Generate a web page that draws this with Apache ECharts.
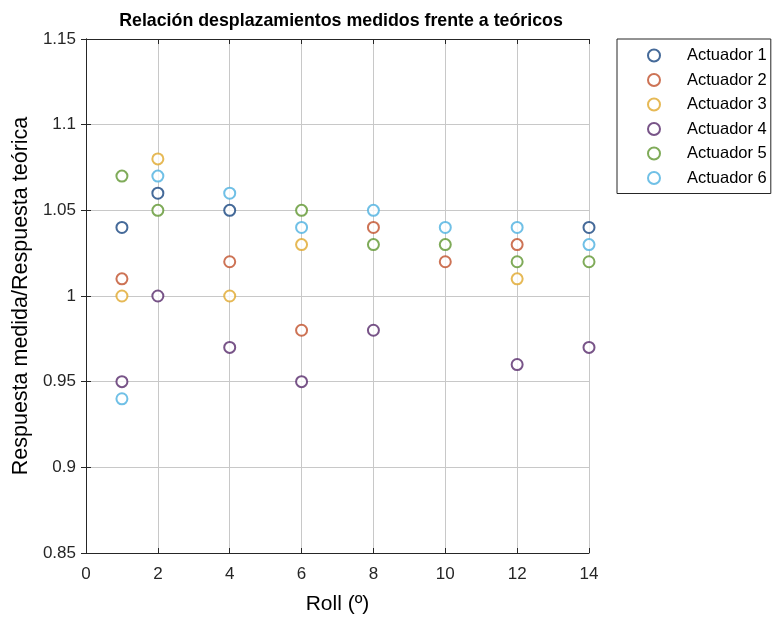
<!DOCTYPE html>
<html><head><meta charset="utf-8">
<script src="https://cdn.jsdelivr.net/npm/echarts@6/dist/echarts.min.js"></script>
<style>html,body{margin:0;padding:0;background:#fff}#c{width:776px;height:622px}</style>
</head><body><div id="c"></div>
<script>
const rollX = [1, 2, 4, 6, 8, 10, 12, 14];
const seriesNames = ['Actuador 1','Actuador 2','Actuador 3','Actuador 4','Actuador 5','Actuador 6'];
// null = point hidden under another marker in the reference
const act1 = [1.04, 1.06, 1.05, null, null, null, null, 1.04];
const act2 = [1.01, null, 1.02, 0.98, 1.04, 1.02, 1.03, null];
const act3 = [1.00, 1.08, 1.00, 1.03, null, null, 1.01, null];
const act4 = [0.95, 1.00, 0.97, 0.95, 0.98, null, 0.96, 0.97];
const act5 = [1.07, 1.05, null, 1.05, 1.03, 1.03, 1.02, 1.02];
const act6 = [0.94, 1.07, 1.06, 1.04, 1.05, 1.04, 1.04, 1.03];
const xTicks = [0, 2, 4, 6, 8, 10, 12, 14];
const yTicks = [0.85, 0.9, 0.95, 1, 1.05, 1.1, 1.15];
const colors = ['#17457f', '#c0502a', '#e0a82c', '#56296a', '#5f9630', '#4cb0e0'];
const allData = [act1, act2, act3, act4, act5, act6];

const font = 'Liberation Sans, Arial, Helvetica, sans-serif';
const chart = echarts.init(document.getElementById('c'), null, {renderer: 'canvas'});
const fmt = v => String(Number(v.toFixed(2)));
const axisLine = {show: true, lineStyle: {color: '#262626', width: 1}};
const tick = {show: true, inside: true, length: 5, lineStyle: {color: '#262626'}};
chart.setOption({
  animation: false,
  color: colors,
  title: {
    text: 'Relación desplazamientos medidos frente a teóricos',
    left: 336, top: 7, textAlign: 'center',
    textStyle: {fontFamily: font, fontSize: 17.8, fontWeight: 'bold', color: '#000'}
  },
  legend: {
    orient: 'vertical', left: 617, top: 39,
    data: seriesNames,
    itemWidth: 12, itemHeight: 12, itemGap: 7.5,
    padding: [8, 4, 7, 30],
    borderColor: '#262626', borderWidth: 1,
    textStyle: {fontFamily: font, fontSize: 16.5, lineHeight: 16, color: '#000', padding: [0, 0, 0, 22]}
  },
  grid: {left: 86, top: 39, right: 187, bottom: 69, containLabel: false},
  xAxis: [{
    type: 'value', min: xTicks[0], max: xTicks[xTicks.length - 1], interval: 2,
    name: 'Roll (º)', nameLocation: 'middle', nameGap: 41,
    nameTextStyle: {fontFamily: font, fontSize: 21, color: '#000'},
    axisLine: axisLine, axisTick: tick,
    axisLabel: {fontFamily: font, fontSize: 17, color: '#262626', margin: 13, formatter: fmt},
    splitLine: {show: true, lineStyle: {color: '#c8c8c8', width: 1}}
  }, {
    type: 'value', position: 'top', min: xTicks[0], max: xTicks[xTicks.length - 1], interval: 2,
    axisLine: axisLine, axisTick: tick, axisLabel: {show: false}, splitLine: {show: false}
  }],
  yAxis: [{
    type: 'value', min: yTicks[0], max: yTicks[yTicks.length - 1], interval: 0.05,
    name: 'Respuesta medida/Respuesta teórica', nameLocation: 'middle', nameGap: 53,
    nameTextStyle: {fontFamily: font, fontSize: 21.5, color: '#000'},
    axisLine: axisLine, axisTick: tick,
    axisLabel: {fontFamily: font, fontSize: 17, color: '#262626', margin: 10, formatter: fmt},
    splitLine: {show: true, lineStyle: {color: '#c8c8c8', width: 1}}
  }, {
    type: 'value', position: 'right', min: yTicks[0], max: yTicks[yTicks.length - 1], interval: 0.05,
    axisLine: axisLine, axisTick: tick, axisLabel: {show: false}, splitLine: {show: false}
  }],
  series: seriesNames.map((n, i) => ({
    name: n, type: 'scatter', symbol: 'emptyCircle', symbolSize: 11,
    itemStyle: {color: colors[i], borderColor: colors[i], borderWidth: 1.5},
    data: rollX.map((x, j) => allData[i][j] === null ? null : [x, allData[i][j]]).filter(d => d)
  }))
});
</script></body></html>
